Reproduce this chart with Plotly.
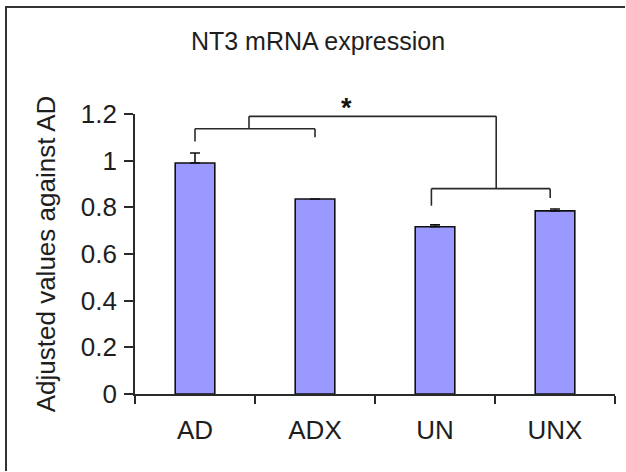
import plotly.graph_objects as go

# Group means and upper error (relative to AD)
groups = ["AD", "ADX", "UN", "UNX"]
values = [0.99, 0.836, 0.717, 0.785]
errors_up = [0.043, 0.0, 0.008, 0.008]

y_ticks = [0, 0.2, 0.4, 0.6, 0.8, 1, 1.2]
y_tick_text = ["0", "0.2", "0.4", "0.6", "0.8", "1", "1.2"]
Y_TOP = 1.2

FONT = "Liberation Sans, Arial, sans-serif"
INK = "#1e1e1e"
LINE = "#2a2a2a"

W, H = 626, 472
ML, MR, MT, MB = 135, 11, 114, 78
PW, PH = W - ML - MR, H - MT - MB

fig = go.Figure(
    go.Bar(
        x=groups,
        y=values,
        width=0.33,
        marker=dict(color="#9999ff", line=dict(color="#111111", width=1.6)),
        error_y=dict(
            type="data",
            array=errors_up,
            arrayminus=[0] * len(errors_up),
            symmetric=False,
            color="#111111",
            thickness=1.6,
            width=5,
        ),
    )
)


def yd(v):
    """Data value -> y-domain fraction (lets brackets rise above 1.2)."""
    return v / Y_TOP


def seg(x0, y0, x1, y1):
    fig.add_shape(
        type="line",
        xref="x", yref="y domain",
        x0=x0, y0=yd(y0), x1=x1, y1=yd(y1),
        line=dict(color=LINE, width=1.6),
    )


# AD vs ADX bracket
seg(0, 1.137, 1, 1.137)
seg(0, 1.137, 0, 1.082)
seg(1, 1.137, 1, 1.10)
# UN vs UNX bracket
seg(1.97, 0.88, 2.96, 0.88)
seg(1.97, 0.88, 1.97, 0.807)
seg(2.96, 0.88, 2.96, 0.84)
# bracket joining the two pairs
seg(0.45, 1.137, 0.45, 1.19)
seg(0.45, 1.19, 2.51, 1.19)
seg(2.51, 1.19, 2.51, 0.88)

fig.add_annotation(
    x=1.26, y=yd(1.225), xref="x", yref="y domain",
    text="<b>*</b>", showarrow=False,
    font=dict(family=FONT, size=27, color="#111111"),
    yanchor="middle",
)

# outer frame: an open path along the left and top edges only
fx = (6 - ML) / PW
fy = 1 + (MT - 7) / PH
f_bottom = -(MB - 1) / PH
f_right = (W - 1 - ML) / PW
fig.add_shape(
    type="path", xref="paper", yref="paper",
    path=f"M {fx} {f_bottom} L {fx} {fy} L {f_right} {fy}",
    line=dict(color="#333333", width=2),
)

fig.update_layout(
    width=W,
    height=H,
    margin=dict(l=ML, r=MR, t=MT, b=MB),
    paper_bgcolor="white",
    plot_bgcolor="white",
    showlegend=False,
    font=dict(family=FONT, size=26, color=INK),
    title=dict(
        text="NT3 mRNA expression",
        x=0.508, xref="container", xanchor="center",
        y=1 - 41 / H, yref="container", yanchor="middle",
        font=dict(family=FONT, size=25, color=INK),
    ),
)

fig.update_xaxes(
    type="category",
    range=[-0.5, 3.5],
    showline=True, linecolor=LINE, linewidth=1.6,
    ticks="outside", tickson="boundaries", ticklen=8, tickwidth=1.6, tickcolor=LINE,
    showgrid=False, zeroline=False,
    tickfont=dict(family=FONT, size=26, color=INK),
    ticklabelstandoff=12,
)

fig.update_yaxes(
    range=[0, Y_TOP],
    tickvals=y_ticks, ticktext=y_tick_text,
    showline=True, linecolor=LINE, linewidth=1.6,
    ticks="outside", ticklen=9, tickwidth=1.6, tickcolor=LINE,
    showgrid=False, zeroline=False,
    tickfont=dict(family=FONT, size=26, color=INK),
    ticklabelstandoff=2,
    title=dict(text="Adjusted values against AD", standoff=18,
               font=dict(family=FONT, size=26, color=INK)),
)

fig.write_html("out.html")
